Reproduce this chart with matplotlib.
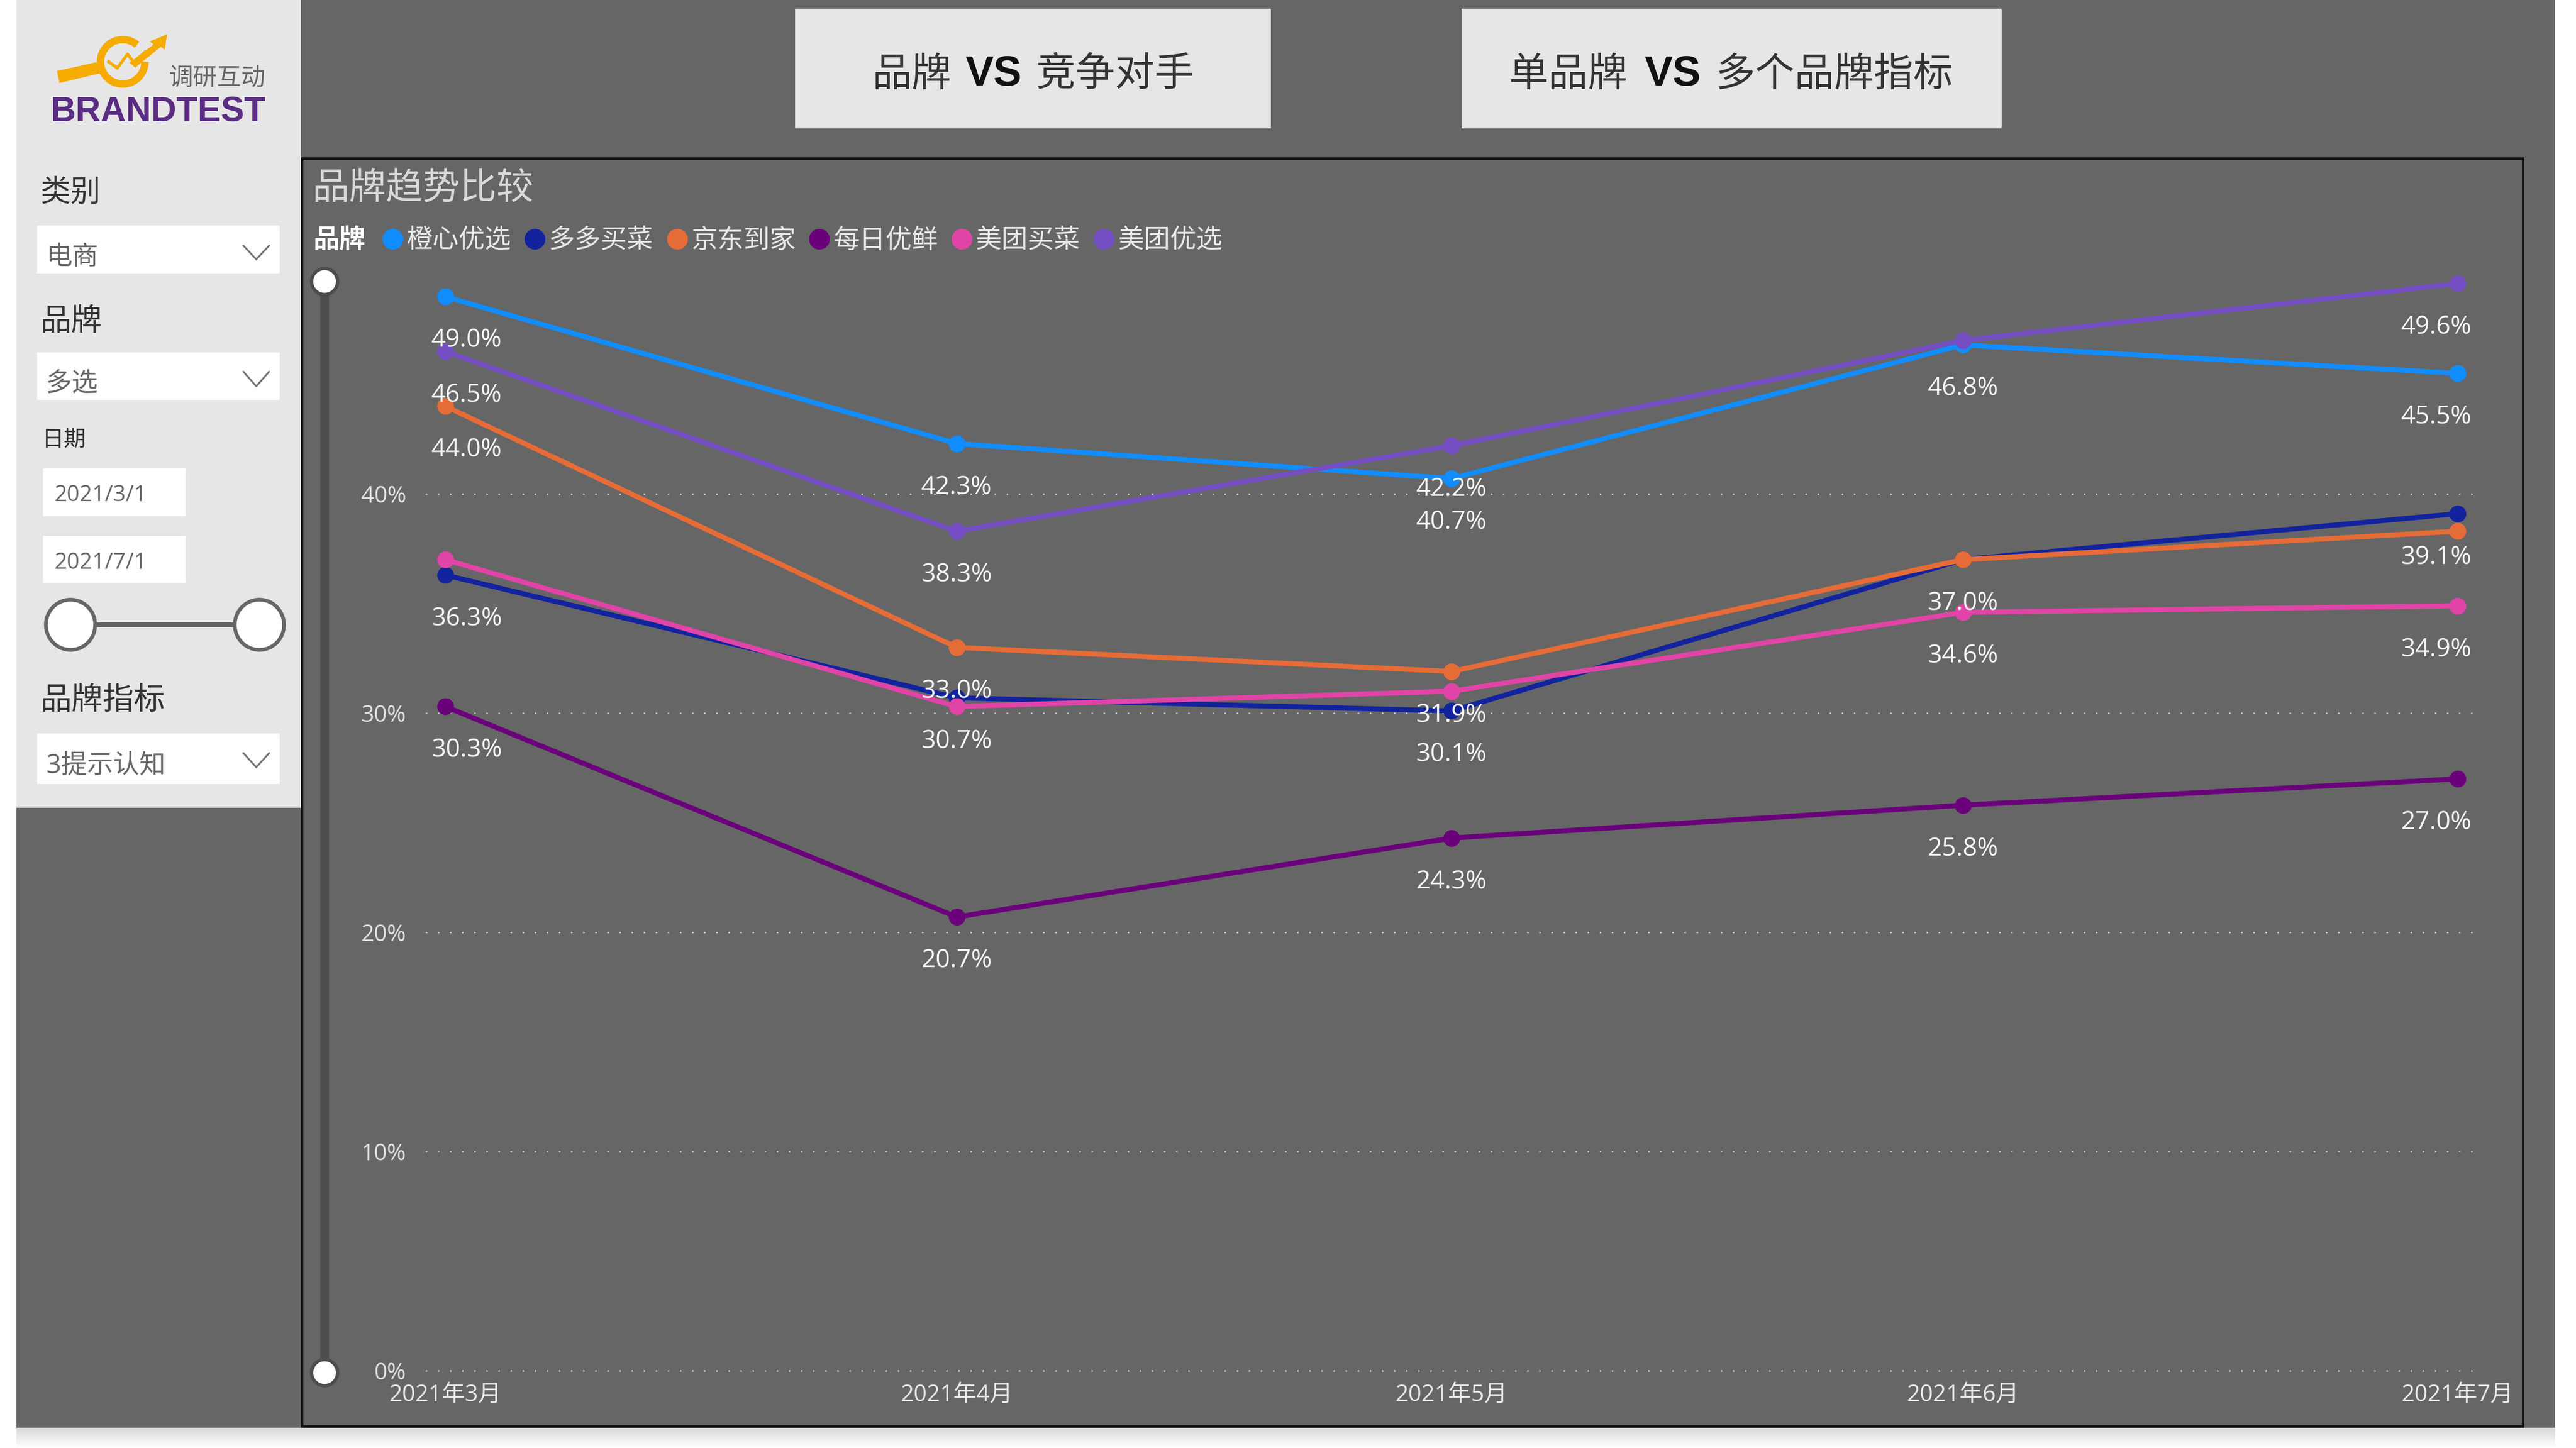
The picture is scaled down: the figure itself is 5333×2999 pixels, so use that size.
import numpy as np
import pandas as pd
import matplotlib
matplotlib.use("Agg")
import matplotlib.pyplot as plt
from matplotlib.lines import Line2D
from matplotlib.patches import Rectangle, Ellipse, Polygon
from matplotlib.ticker import FuncFormatter

plt.rcParams['font.family'] = ['Open Sans', 'Noto Sans CJK SC', 'DejaVu Sans']

# ---------- data ----------
dates = pd.to_datetime(["2021-03-01", "2021-04-01", "2021-05-01", "2021-06-01", "2021-07-01"])
month_labels = ["2021年3月", "2021年4月", "2021年5月", "2021年6月", "2021年7月"]
brands = ["橙心优选", "多多买菜", "京东到家", "每日优鲜", "美团买菜", "美团优选"]
chengxin = [49.0, 42.3, 40.7, 46.8, 45.5]
duoduo = [36.3, 30.7, 30.1, 37.0, 39.1]
jingdong = [44.0, 33.0, 31.9, 37.0, 38.3]
meiri = [30.3, 20.7, 24.3, 25.8, 27.0]
mtmaicai = [37.0, 30.3, 31.0, 34.6, 34.9]
mtyouxuan = [46.5, 38.3, 42.2, 47.0, 49.6]
series = [chengxin, duoduo, jingdong, meiri, mtmaicai, mtyouxuan]
colors = ["#118DFF", "#12239E", "#E66C37", "#6B007B", "#E044A7", "#744EC2"]
# which points carry a data label (month index), as in the reference
labelled = [[0, 1, 2, 3, 4], [0, 1, 2, 4], [0, 1, 2, 3], [0, 1, 2, 3, 4], [3, 4], [0, 1, 2, 4]]
y_ticks = [0, 10, 20, 30, 40]

# ---------- canvas ----------
W, H = 5333, 2999
fig = plt.figure(figsize=(W / 100, H / 100), dpi=100, facecolor="white")
bg = fig.add_axes([0, 0, 1, 1])
bg.axis("off")

GRAY = "#666666"
LIGHT = "#E6E6E6"
DARK = "#4D4D4D"
TXT = "#666666"
LBL = "#333333"

# shadow beneath page
grad = np.linspace(0.84, 1.0, 40).reshape(-1, 1)
bg.imshow(grad, extent=(34, 5290, 2999, 2955), cmap="gray", vmin=0, vmax=1, aspect="auto", zorder=0)
bg.set_xlim(0, W)
bg.set_ylim(H, 0)


def rect(x0, y0, x1, y1, **kw):
    bg.add_patch(Rectangle((x0, y0), x1 - x0, y1 - y0, linewidth=kw.pop("lw", 0), **kw))


def txt(x, y, s, size, color=LBL, ha="left", **kw):
    bg.text(x, y + 7, s, fontsize=size, color=color, ha=ha, va="center", **kw)


def chevron(x0, x1, y0, y1):
    bg.plot([x0, (x0 + x1) / 2, x1], [y0, y1, y0], color="#707070", lw=2.6,
            solid_joinstyle="miter", zorder=6)


rect(34, 0, 5290, 2957, facecolor=GRAY, zorder=1)
rect(34, 0, 623, 1673, facecolor=LIGHT, zorder=2)
for b in [(1646, 18, 2631, 266), (3026, 18, 4144, 266)]:
    rect(*b, facecolor=LIGHT, zorder=2)

# chart frame
rect(625, 328, 5223, 2954, facecolor="none", edgecolor="#111111", lw=3.6, zorder=3)

# top buttons
BTN_Y = 149
VS_FONT = ["Liberation Sans", "DejaVu Sans"]
txt(1805, BTN_Y, "品牌", 59, zorder=5)
txt(1998, 147, "VS", 63, family=VS_FONT, weight="bold", color="#111111", zorder=5)
txt(2145, BTN_Y, "竞争对手", 59, zorder=5)
txt(3124, BTN_Y, "单品牌", 59, zorder=5)
txt(3404, 147, "VS", 63, family=VS_FONT, weight="bold", color="#111111", zorder=5)
txt(3552, BTN_Y, "多个品牌指标", 59, zorder=5)

# sidebar
for y0, y1 in [(467, 566), (730, 828), (1519, 1624)]:
    rect(77, y0, 579, y1, facecolor="white", zorder=3)
for y0, y1 in [(970, 1069), (1110, 1208)]:
    rect(89, y0, 385, y1, facecolor="white", zorder=3)
txt(83, 394, "类别", 45, zorder=5)
txt(95, 526, "电商", 39, color=TXT, zorder=5)
txt(84, 660, "品牌", 46, zorder=5)
txt(95, 789, "多选", 39, color=TXT, zorder=5)
txt(87, 906, "日期", 33, zorder=5)
txt(113, 1019, "2021/3/1", 33, color=TXT, zorder=5)
txt(113, 1159, "2021/7/1", 33, color=TXT, zorder=5)
txt(84, 1445, "品牌指标", 46.5, zorder=5)
txt(96, 1580, "3提示认知", 39, color=TXT, zorder=5)
for (c0, c1) in [(509, 537), (770, 800), (1560, 1589)]:
    chevron(504, 557, c0, c1)
bg.plot([146, 537], [1294, 1294], color=GRAY, lw=7.2, zorder=4, solid_capstyle="butt")
for cx in (146, 537):
    bg.add_patch(Ellipse((cx, 1294), 102, 104, facecolor="white", edgecolor=GRAY, lw=5.5, zorder=5))

# logo
YEL = "#F5AB00"
t = np.radians(np.linspace(50, 360, 80))
bg.plot(254 + 46 * np.cos(t), 128 - 46 * np.sin(t), color=YEL, lw=11, solid_capstyle="butt", zorder=4)
bg.add_patch(Polygon([(118, 147), (199, 129), (210, 151), (123, 172)], facecolor=YEL, lw=0, zorder=4))
bg.add_patch(Polygon([(280, 140), (268, 130), (318, 92), (310, 86), (346, 71), (341, 103), (333, 97)],
                     facecolor=YEL, lw=0, zorder=4))
bg.plot([225, 243, 264, 277, 300], [128, 141, 112, 130, 108], color=YEL, lw=4.5, zorder=4)
txt(350, 156, "调研互动", 36, color=TXT, zorder=5)
txt(327, 224, "BRANDTEST", 52, color="#5B2C83", ha="center",
    family=["Liberation Sans", "DejaVu Sans"], weight="bold", zorder=5)

# chart title + legend caption
txt(647, 385, "品牌趋势比较", 55, color="#D9D9D9", zorder=5)
txt(648, 492, "品牌", 39, color="white", weight="bold", zorder=5)

# vertical slider
bg.plot([672, 672], [583, 2843], color=DARK, lw=13, zorder=4, solid_capstyle="butt")
for cy in (583, 2843):
    bg.add_patch(Ellipse((672, cy), 54, 54, facecolor="white", edgecolor=DARK, lw=5, zorder=5))

# ---------- chart ----------
ax_l, ax_r, ax_t, ax_b = 881, 5124, 500, 2839
ax = fig.add_axes([ax_l / W, 1 - ax_b / H, (ax_r - ax_l) / W, (ax_b - ax_t) / H])
ax.patch.set_alpha(0)
for s in ax.spines.values():
    s.set_visible(False)

handles = []
for name, vals, col in zip(brands, series, colors):
    ax.plot(dates, vals, color=col, lw=7.5, marker="o", ms=25, mew=0, zorder=3,
            solid_joinstyle="round")
    handles.append(Line2D([], [], color=col, marker="o", ms=31, mew=0, ls="none", label=name))

n_dates = len(dates)
for vals, idx in zip(series, labelled):
    for i in idx:
        dx = 32 if i == 0 else (-32 if i == n_dates - 1 else 0)
        ax.annotate(f"{vals[i]:.1f}%", (dates[i], vals[i]), xytext=(dx, -65.5), textcoords="offset points",
                    ha="center", va="center", fontsize=37.5, color="#F5F5F5", zorder=6)

ax.set_ylim(0, (ax_b - ax_t) / 45.4)
day_px = (5088 - 922) / 122
ax.set_xlim(dates[0] + pd.Timedelta(days=(ax_l - 922) / day_px),
            dates[0] + pd.Timedelta(days=(ax_r - 922) / day_px))
ax.set_yticks(y_ticks)
ax.yaxis.set_major_formatter(FuncFormatter(lambda v, p: f"{v:.0f}%"))
ax.set_xticks(dates)
ax.set_xticklabels(month_labels)
ax.tick_params(axis="y", length=0, pad=29, labelsize=34, labelcolor="#E0E0E0")
ax.tick_params(axis="x", length=0, pad=19, labelsize=34.5, labelcolor="#E8E8E8")
ax.set_axisbelow(True)
ax.grid(axis="y", color="#CFCFCF", lw=2.2, linestyle=(0, (1, 7.2)))
ax.grid(axis="x", visible=False)
for gl in ax.get_ygridlines():
    gl.set_clip_on(False)

leg = ax.legend(handles=handles, ncol=6, frameon=False, loc="center left",
                bbox_to_anchor=(791 / W, 1 - 499 / H), bbox_transform=fig.transFigure,
                fontsize=39, labelcolor="#E8E8E8", borderpad=0, borderaxespad=0,
                handlelength=0.8, handletextpad=0.14, columnspacing=0.50, numpoints=1)

fig.savefig("out.png", dpi=100, facecolor="white")
